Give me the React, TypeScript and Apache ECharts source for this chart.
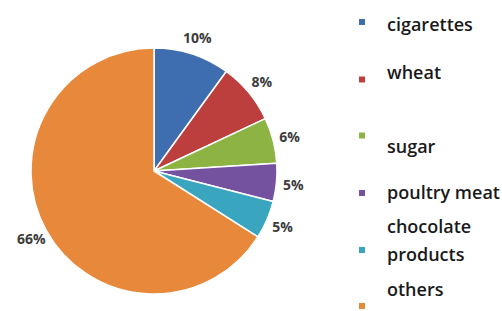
import React, { useEffect, useRef } from "react";
import * as echarts from "echarts";

const categories = ["cigarettes", "wheat", "sugar", "poultry meat", "chocolate products", "others"];
const shares = [10, 8, 6, 5, 5, 66];
const colors = ["#3E6EB0", "#BC3E3D", "#8DB443", "#7452A0", "#3AA5BF", "#E8883A"];
const legendTextTops = [10, 58, 132, 178, 212, 275];
const legendIconCenters = [22, 79.5, 135.5, 193, 250, 306];

export default function App() {
  const ref = useRef<HTMLDivElement>(null);
  useEffect(() => {
    if (!ref.current) return;
    const chart = echarts.init(ref.current, undefined, { renderer: "svg" });
    const iconLegends = categories.map((name, i) => ({
      data: [name],
      left: 359,
      top: legendIconCenters[i] - 3,
      padding: 0,
      icon: "rect",
      itemWidth: 6,
      itemHeight: 6,
      itemGap: 0,
      itemStyle: { borderWidth: 0 },
      selectedMode: false,
      formatter: () => "",
      textStyle: { fontSize: 6, lineHeight: 6 },
    }));
    const textLegends = categories.map((name, i) => ({
      data: [name],
      left: 382,
      top: legendTextTops[i],
      padding: 0,
      icon: "rect",
      itemWidth: 0,
      itemHeight: 0,
      itemGap: 0,
      itemStyle: { borderWidth: 0 },
      selectedMode: false,
      formatter: (n: string) => (n === "chocolate products" ? "chocolate\nproducts" : n),
      textStyle: {
        fontFamily: "Open Sans",
        fontWeight: 600,
        fontSize: 18,
        color: "#1a1a1a",
        lineHeight: 28,
      },
    }));
    const pieData = categories.map((name, i) => ({ name, value: shares[i] }));
    chart.setOption({
      animation: false,
      color: colors,
      legend: [...iconLegends, ...textLegends],
      series: [
        {
          type: "pie",
          center: [154, 171],
          radius: 123,
          startAngle: 90,
          clockwise: true,
          data: pieData,
          itemStyle: { borderColor: "#ffffff", borderWidth: 1.5 },
          label: { show: false },
          labelLine: { show: false },
        },
        {
          type: "pie",
          silent: true,
          center: [154, 171],
          radius: [130, 144],
          startAngle: 90,
          clockwise: true,
          data: pieData,
          itemStyle: { color: "rgba(0,0,0,0)", borderWidth: 0 },
          label: {
            show: true,
            position: "inside",
            formatter: "{c}%",
            fontFamily: "Open Sans",
            fontWeight: "bold",
            fontSize: 14,
            color: "#3c3c3c",
            overflow: "none",
          },
          labelLine: { show: false },
        },
      ],
    });
    return () => chart.dispose();
  }, []);
  return (
    <div
      ref={ref}
      style={{ position: "fixed", left: 0, top: 0, width: 502, height: 311, background: "#fff" }}
    />
  );
}
